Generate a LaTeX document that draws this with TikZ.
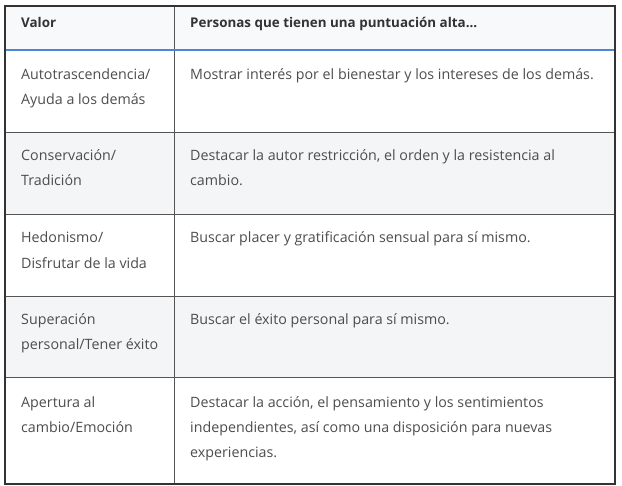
\documentclass[tikz,border=0pt]{standalone}
\usepackage{fontspec}
\setmainfont{Open Sans}
\definecolor{hdrbg}{HTML}{F8F9FA}
\definecolor{graybg}{HTML}{F4F5F7}
\definecolor{txt}{HTML}{4D4D4D}
\definecolor{hdrtxt}{HTML}{333333}
\definecolor{rule}{HTML}{555555}
\definecolor{blueline}{HTML}{4A86D8}
\tikzset{
  cell/.style={anchor=base west, inner sep=0pt, font=\fontsize{14.25bp}{25bp}\selectfont, text=txt, align=left},
  hcell/.style={anchor=base west, inner sep=0pt, font=\fontsize{13.4bp}{25bp}\selectfont\bfseries, text=hdrtxt},
  rowline/.style={draw=rule, line width=1bp},
}
\begin{document}
\begin{tikzpicture}[x=1bp,y=-1bp]
\useasboundingbox (0,0) rectangle (622,486);
% backgrounds
\fill[hdrbg] (5,6) rectangle (615,50);
\fill[graybg] (5,133) rectangle (615,215);
\fill[graybg] (5,296) rectangle (615,377);
% header text
\node[hcell] (h1) at (21,28) {Valor};
\node[hcell] (h2) at (190,28) {Personas que tienen una puntuación alta...};
% rows (anchor = baseline of the last line)
\node[cell] (a1) at (21,105) {Autotrascendencia/\\Ayuda a los demás};
\node[cell] (b1) at (190,80) {Mostrar interés por el bienestar y los intereses de los demás.};
\node[cell] (a2) at (21,186) {Conservación/\\Tradición};
\node[cell] (b2) at (190,186) {Destacar la autor restricción, el orden y la resistencia al\\cambio.};
\node[cell] (a3) at (21,268) {Hedonismo/\\Disfrutar de la vida};
\node[cell] (b3) at (190,243) {Buscar placer y gratificación sensual para sí mismo.};
\node[cell] (a4) at (21,349) {Superación\\personal/Tener éxito};
\node[cell] (b4) at (190,324) {Buscar el éxito personal para sí mismo.};
\node[cell] (a5) at (21,432) {Apertura al\\cambio/Emoción};
\node[cell] (b5) at (190,457) {Destacar la acción, el pensamiento y los sentimientos\\independientes, así como una disposición para nuevas\\experiencias.};
% lines
\draw[rowline] (5,133) -- (615,133);
\draw[rowline] (5,215) -- (615,215);
\draw[rowline] (5,296) -- (615,296);
\draw[rowline] (5,377) -- (615,377);
\draw[draw=rule, line width=1bp] (174,6) -- (174,484);
\draw[blueline, line width=2.5bp] (5,50) -- (615,50);
\draw[draw=hdrtxt, line width=1.2bp] (5,6) rectangle (615,484);
\end{tikzpicture}
\end{document}
